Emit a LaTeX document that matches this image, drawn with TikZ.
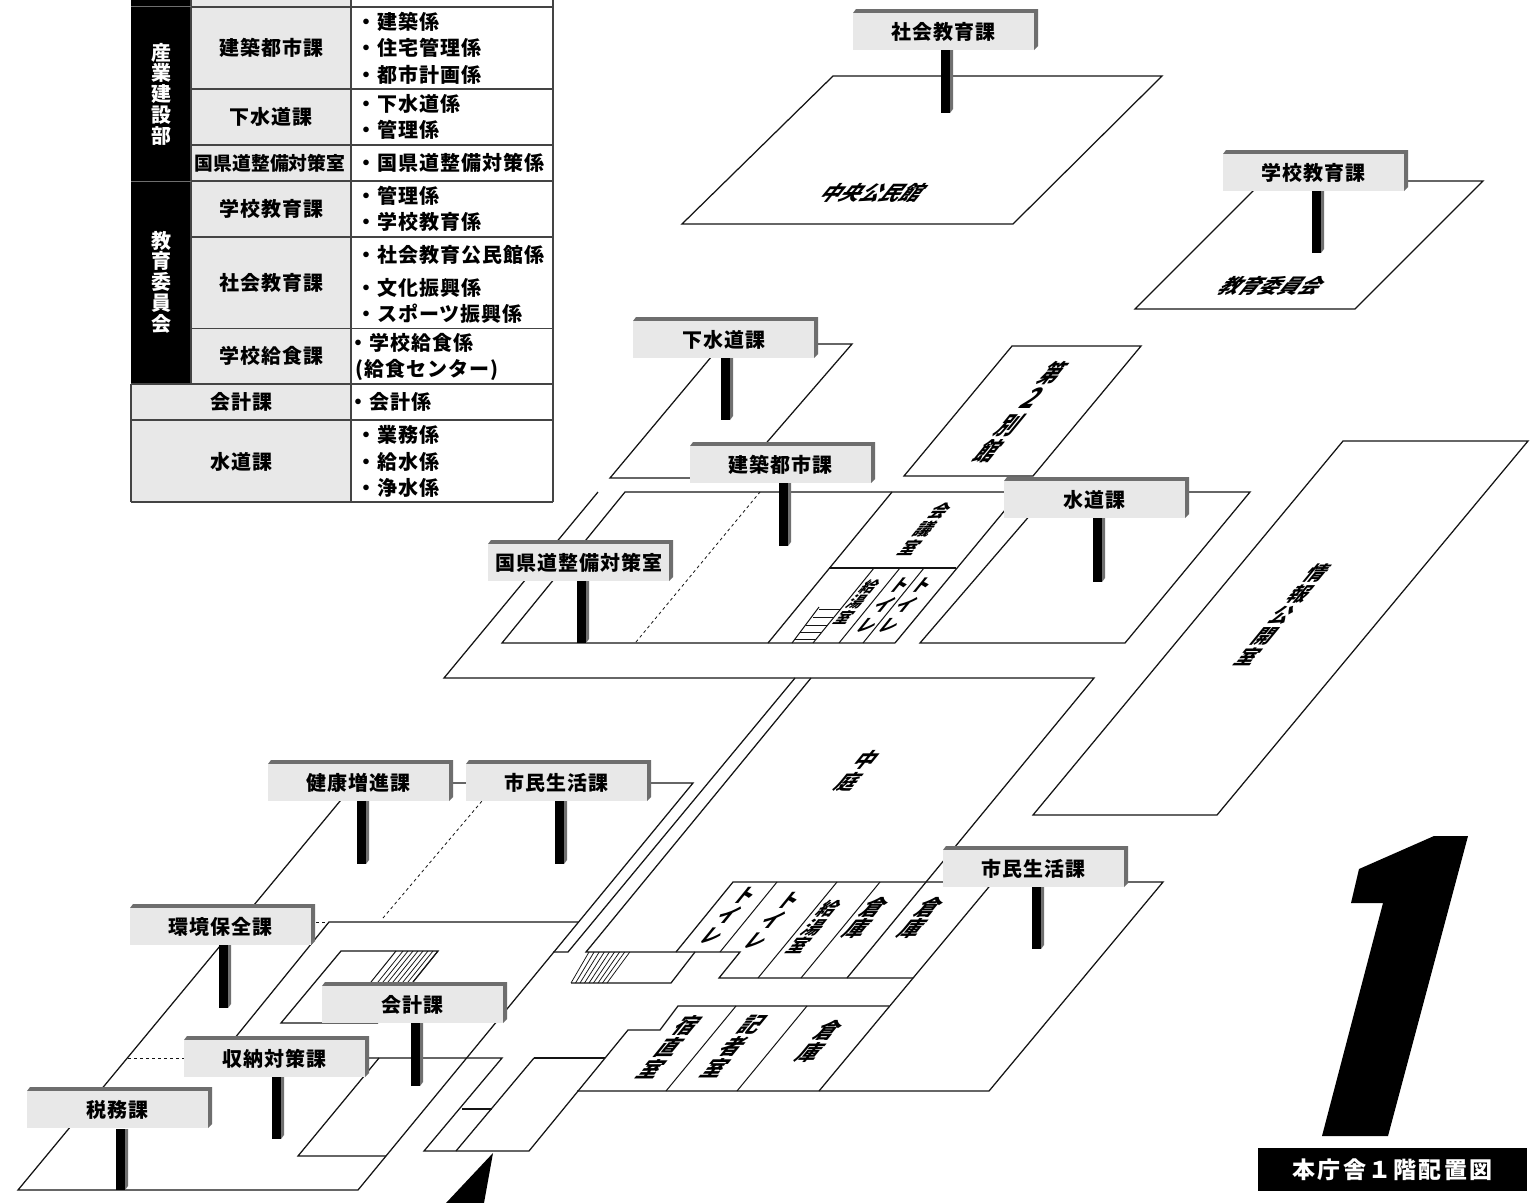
\documentclass[tikz,border=0pt]{standalone}
\usepackage{fontspec}
\setmainfont{Noto Sans CJK JP}
\newfontfamily\jpsp{Noto Sans CJK JP}[LetterSpace=5]
\newfontfamily\jpwide{Noto Sans CJK JP}[LetterSpace=10]
\definecolor{linec}{HTML}{141414}
\definecolor{tablec}{HTML}{444444}
\definecolor{cellgray}{HTML}{E8E8E8}
\definecolor{signdark}{HTML}{6E6E6E}
\definecolor{postgray}{HTML}{707070}
\tikzset{
  fl/.style={draw=linec,line width=1.25pt,line join=miter},
  dl/.style={draw=linec,line width=.8pt,dash pattern=on 3pt off 3pt},
  thinl/.style={draw=linec,line width=1pt},
  signface/.style={fill=cellgray,inner sep=0pt,minimum width=181pt,minimum height=37pt,font=\fontsize{20}{21}\selectfont\bfseries\jpsp,text=black,anchor=north west},
  celltext/.style={inner sep=0pt,font=\fontsize{20}{21}\selectfont\bfseries\jpsp,text=black},
  rowtext/.style={celltext,anchor=west},
  sidetext/.style={inner sep=0pt,font=\fontsize{20}{20.7}\selectfont\bfseries,text=white,align=center},
}
\newcommand{\signboard}[4]{%
  \fill[signdark] ({#2+3},#3) -- ({#2+185},#3) -- ({#2+185},{#3+37}) -- ({#2+181},{#3+41}) -- ({#2+181},{#3+4}) -- (#2,{#3+4}) -- cycle;
  \node[signface] (#1) at (#2,{#3+4}) {#4};}
\newcommand{\signpost}[3]{%
  \fill[black] (#1,#2) rectangle ({#1+9},#3);
  \fill[postgray] ({#1+9},#2) -- ({#1+12},#2) -- ({#1+12},{#3-4}) -- ({#1+9},#3) -- cycle;}
% name, x, y, size, pitch, xscale, text
\newcommand{\flabel}[7]{%
  \begin{scope}[shift={(#2,#3)},xslant=.82,xscale=#6]
    \node[transform shape,inner sep=0pt,align=center,font=\fontsize{#4}{#5}\selectfont\bfseries,text=black] (#1) at (0,0) {#7};
  \end{scope}}
\begin{document}
\begin{tikzpicture}[x=1pt,y=-1pt]
\useasboundingbox (0,0) rectangle (1538,1202);
\clip (0,0) rectangle (1538,1202);
\fill[white] (0,0) rectangle (1538,1202);
% ---------- table
\fill[black] (131,0) rectangle (191,7);
\fill[black] (131,7) rectangle (191,181);
\fill[black] (131,181) rectangle (191,384);
\fill[cellgray] (191,0) rectangle (351,384);
\fill[cellgray] (131,384) rectangle (351,502);
\draw[tablec,line width=1.2pt] (191,0) -- (191,384) (351,0) -- (351,502) (553,0) -- (553,502) (131,384) -- (131,502) (131,502) -- (553,502);
\draw[tablec,line width=1.2pt] (191,7) -- (553,7) (191,89) -- (553,89) (191,145) -- (553,145) (191,181) -- (553,181) (191,237) -- (553,237) (191,328.5) -- (553,328.5) (131,384) -- (553,384) (131,420) -- (553,420);
\draw[signdark,line width=1pt] (131,6.5) -- (191,6.5) (131,181) -- (191,181);
\node[sidetext] (dept1) at (161,94) {産\\業\\建\\設\\部};
\node[sidetext] (dept2) at (161,282) {教\\育\\委\\員\\会};
\node[celltext] (c1) at (271,48) {建築都市課};
\node[celltext] (c2) at (271,117) {下水道課};
\node[inner sep=0pt,font=\fontsize{18.8}{21}\selectfont\bfseries] (c3) at (270,163) {国県道整備対策室};
\node[celltext] (c4) at (271,209) {学校教育課};
\node[celltext] (c5) at (271,283) {社会教育課};
\node[celltext] (c6) at (271,356) {学校給食課};
\node[celltext] (c7) at (241,402) {会計課};
\node[celltext] (c8) at (241,462) {水道課};
\node[rowtext] (r1) at (356,22) {・建築係};
\node[rowtext] (r2) at (356,48) {・住宅管理係};
\node[rowtext] (r3) at (356,75) {・都市計画係};
\node[rowtext] (r4) at (356,104) {・下水道係};
\node[rowtext] (r5) at (356,130) {・管理係};
\node[rowtext] (r6) at (356,163) {・国県道整備対策係};
\node[rowtext] (r7) at (356,196) {・管理係};
\node[rowtext] (r8) at (356,222) {・学校教育係};
\node[rowtext] (r9) at (356,255) {・社会教育公民館係};
\node[rowtext] (r10) at (356,288) {・文化振興係};
\node[rowtext] (r11) at (356,314) {・スポーツ振興係};
\node[rowtext] (r12) at (348,343) {・学校給食係};
\node[rowtext] (r13) at (355,370) {(給食センター)};
\node[rowtext] (r14) at (348,402) {・会計係};
\node[rowtext] (r15) at (356,435) {・業務係};
\node[rowtext] (r16) at (356,462) {・給水係};
\node[rowtext] (r17) at (356,488) {・浄水係};
% ---------- outlying buildings
\draw[fl] (682,224) -- (833,76) -- (1162,76) -- (1013,224) -- cycle;
\draw[fl] (1135,309) -- (1263,181) -- (1483,181) -- (1355,309) -- cycle;
\draw[fl] (610,478) -- (722,344) -- (852,344) -- (736,478) -- cycle;
\draw[fl] (904,476) -- (1012,346) -- (1141,346) -- (1033,476) -- cycle;
\draw[fl] (1033,815) -- (1343,441) -- (1528,441) -- (1217,815) -- cycle;
% ---------- north wing
\draw[fl] (598,492) -- (444,678) -- (1094,678) -- (847,978);
\draw[fl] (895,643) -- (502,643) -- (625,492) -- (1250,492) -- (1125,643) -- (920,643) -- (1050,492);
\draw[fl] (768,643) -- (892,492);
\draw[fl] (829,568) -- (956,568);
\draw[fl] (895,643) -- (1020,492);
\draw[thinl] (813,643) -- (874,568) (839,643) -- (900,568) (863,643) -- (924,568) (792,643) -- (819,607);
\draw[thinl] (819,609) -- (841,609) (813,617) -- (834,617) (806,625) -- (828,625) (800,632) -- (822,632) (795,639) -- (816,639);
\draw[dl] (636,642) -- (760,492);
% ---------- corridors and south wing
\draw[fl] (795,678) -- (568,952) -- (553,952);
\draw[fl] (811,678) -- (586,952) -- (740,952) -- (719,978) -- (913,978);
\draw[fl] (355,783) -- (693,783) -- (358,1190) -- (18,1190) -- cycle;
\draw[fl] (230,1044) -- (329,922) -- (578,922);
\draw[dl] (316,922) -- (329,922);
\draw[dl] (128,1058) -- (184,1058);
\draw[dl] (383,918) -- (482,801);
% inner box with stairs
\draw[fl] (378,1023) -- (281,1023) -- (341,951) -- (438,951) -- (413,982);
\draw[thinl] (396,951) -- (371,982);
\foreach \i in {0,...,7}{\draw[draw=linec,line width=.75pt] ({403+\i*5},951) -- ({378+\i*5},982);}
% south-east rooms
\draw[fl] (676,952) -- (733,882) -- (1163,882) -- (989,1091) -- (577,1091);
\draw[fl] (993,882) -- (819,1091);
\draw[thinl] (777,882) -- (720,952) (837,882) -- (758,978) (880,882) -- (801,978);
% stairs
\draw[fl] (571,983) -- (671,983) -- (695,952);
\foreach \i in {0,...,8}{\draw[draw=linec,line width=.75pt] ({589+\i*5.1},952) -- ({571+\i*4.5},983);}
\draw[fl] (889,1006) -- (678,1006) -- (660,1030) -- (628,1030) -- (529,1151) -- (424,1151) -- (502,1058) -- (369,1058);
\draw[fl] (534,1058) -- (605,1058);
\draw[fl] (456,1151) -- (534,1058);
\draw[fl] (462,1109) -- (492,1109);
\draw[fl] (379,1058) -- (298,1156) -- (386,1156);
\draw[thinl] (736,1006) -- (666,1091) (807,1006) -- (737,1091);
% ---------- floor labels
\flabel{l1}{874}{193}{20}{20}{1}{中央公民館}
\flabel{l2}{1273}{286}{20}{20}{1}{教育委員会}
\flabel{l3}{1021}{412}{24.5}{26}{.8}{第\\{\fontsize{28}{26}\selectfont 2}\\別\\館}
\flabel{l4}{1283}{615}{19.5}{21}{1}{情\\報\\公\\開\\室}
\flabel{l5}{925}{529}{17}{18.5}{1}{会\\議\\室}
\flabel{l6}{857}{602}{15}{15.5}{1}{給\\湯\\室}
\flabel{l7}{884}{605}{17}{20}{1}{ト\\イ\\レ}
\flabel{l8}{906}{605}{17}{20}{1}{ト\\イ\\レ}
\flabel{l9}{858}{771}{20}{22}{1}{中\\庭}
\flabel{l10}{729}{915}{19}{20}{1}{ト\\イ\\レ}
\flabel{l11}{773}{920}{19}{20}{1}{ト\\イ\\レ}
\flabel{l12}{814}{927}{18}{18.5}{1}{給\\湯\\室}
\flabel{l13}{866}{918}{21}{21}{1}{倉\\庫}
\flabel{l14}{921}{918}{21}{21}{1}{倉\\庫}
\flabel{l15}{670}{1047}{21}{22}{1}{宿\\直\\室}
\flabel{l16}{734}{1047}{21}{22}{1}{記\\者\\室}
\flabel{l17}{820}{1041}{21}{22}{1}{倉\\庫}
% ---------- big numeral and title
\fill[black] (1434,836) -- (1468,836) -- (1388,1136) -- (1322,1136) -- (1383,903) -- (1351,903) -- (1359,869) -- cycle;
\fill[black] (493,1153) -- (446,1203) -- (484,1203) -- cycle;
\node[fill=black,text=white,inner sep=0pt,minimum width=269pt,minimum height=43pt,font=\fontsize{23}{24}\selectfont\bfseries\jpwide] (title) at (1392.5,1169.5) {本庁舎１階配置図};
% ---------- posts
\signpost{941}{50}{113}
\signpost{1312}{190}{253}
\signpost{721}{357}{420}
\signpost{779}{483}{546}
\signpost{1093}{518}{582}
\signpost{577}{581}{643}
\signpost{357}{801}{864}
\signpost{555}{801}{864}
\signpost{219}{945}{1008}
\signpost{411}{1022}{1086}
\signpost{272}{1077}{1139}
\signpost{116}{1129}{1190}
\signpost{1032}{887}{949}
% ---------- signs
\signboard{s1}{853}{9}{社会教育課}
\signboard{s2}{1223}{150}{学校教育課}
\signboard{s3}{633}{317}{下水道課}
\signboard{s4}{690}{442}{建築都市課}
\signboard{s5}{1004}{477}{水道課}
\signboard{s6}{488}{540}{国県道整備対策室}
\signboard{s7}{268}{760}{健康増進課}
\signboard{s8}{466}{760}{市民生活課}
\signboard{s9}{130}{904}{環境保全課}
\signboard{s10}{322}{982}{会計課}
\signboard{s11}{184}{1036}{収納対策課}
\signboard{s12}{27}{1087}{税務課}
\signboard{s13}{943}{846}{市民生活課}
\end{tikzpicture}
\end{document}
